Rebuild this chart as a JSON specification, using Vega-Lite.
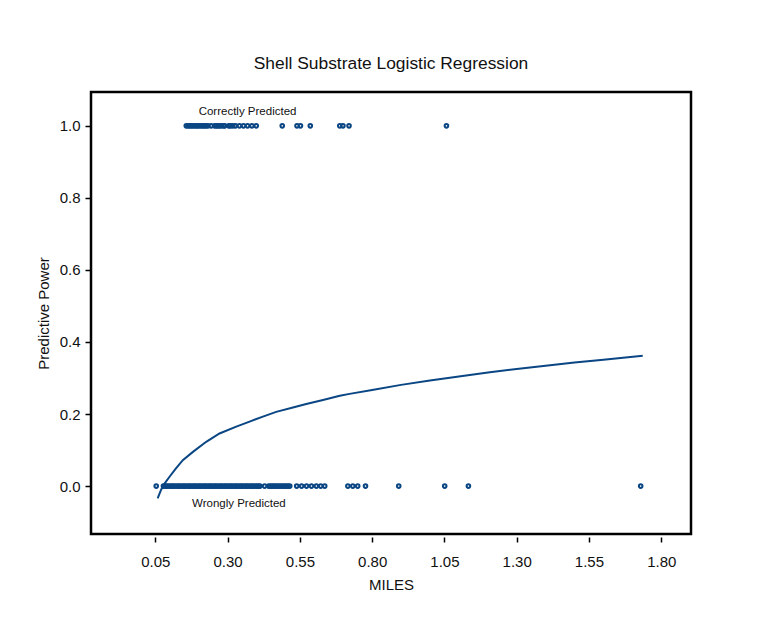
{
  "$schema": "https://vega.github.io/schema/vega-lite/v6.json",
  "width": 600,
  "height": 442,
  "autosize": {"type": "none"},
  "padding": {"left": 91, "top": 92, "right": 77, "bottom": 83},
  "background": "white",
  "config": {
    "font": "Liberation Sans",
    "view": {"stroke": "black", "strokeWidth": 2.5},
    "axis": {"grid": false, "labelFont": "Liberation Sans", "titleFont": "Liberation Sans", "labelColor": "#111", "titleColor": "#111", "tickColor": "black", "tickWidth": 1.5, "titleFontWeight": "normal"}
  },
  "title": {"text": "Shell Substrate Logistic Regression", "fontSize": 17.4, "fontWeight": "normal", "font": "Liberation Sans", "color": "#111", "offset": 20},
  "datasets": {
    "obs": [
      {"miles": 0.053, "pred": 0},
      {"miles": 0.078, "pred": 0}, {"miles": 0.083, "pred": 0}, {"miles": 0.089, "pred": 0}, {"miles": 0.094, "pred": 0},
      {"miles": 0.101, "pred": 0}, {"miles": 0.107, "pred": 0}, {"miles": 0.112, "pred": 0}, {"miles": 0.118, "pred": 0},
      {"miles": 0.125, "pred": 0}, {"miles": 0.131, "pred": 0}, {"miles": 0.136, "pred": 0}, {"miles": 0.143, "pred": 0},
      {"miles": 0.149, "pred": 0}, {"miles": 0.154, "pred": 0}, {"miles": 0.161, "pred": 0}, {"miles": 0.167, "pred": 0},
      {"miles": 0.172, "pred": 0}, {"miles": 0.179, "pred": 0}, {"miles": 0.185, "pred": 0}, {"miles": 0.19, "pred": 0},
      {"miles": 0.197, "pred": 0}, {"miles": 0.203, "pred": 0}, {"miles": 0.208, "pred": 0}, {"miles": 0.215, "pred": 0},
      {"miles": 0.221, "pred": 0}, {"miles": 0.226, "pred": 0}, {"miles": 0.233, "pred": 0}, {"miles": 0.239, "pred": 0},
      {"miles": 0.244, "pred": 0}, {"miles": 0.251, "pred": 0}, {"miles": 0.257, "pred": 0}, {"miles": 0.262, "pred": 0},
      {"miles": 0.269, "pred": 0}, {"miles": 0.275, "pred": 0}, {"miles": 0.28, "pred": 0}, {"miles": 0.287, "pred": 0},
      {"miles": 0.293, "pred": 0}, {"miles": 0.298, "pred": 0}, {"miles": 0.305, "pred": 0}, {"miles": 0.311, "pred": 0},
      {"miles": 0.316, "pred": 0}, {"miles": 0.323, "pred": 0}, {"miles": 0.329, "pred": 0}, {"miles": 0.334, "pred": 0},
      {"miles": 0.341, "pred": 0}, {"miles": 0.347, "pred": 0}, {"miles": 0.352, "pred": 0}, {"miles": 0.359, "pred": 0},
      {"miles": 0.365, "pred": 0}, {"miles": 0.37, "pred": 0}, {"miles": 0.377, "pred": 0}, {"miles": 0.383, "pred": 0},
      {"miles": 0.388, "pred": 0}, {"miles": 0.395, "pred": 0}, {"miles": 0.401, "pred": 0}, {"miles": 0.407, "pred": 0},
      {"miles": 0.412, "pred": 0}, {"miles": 0.428, "pred": 0},
      {"miles": 0.442, "pred": 0}, {"miles": 0.448, "pred": 0}, {"miles": 0.454, "pred": 0}, {"miles": 0.46, "pred": 0},
      {"miles": 0.466, "pred": 0}, {"miles": 0.472, "pred": 0}, {"miles": 0.478, "pred": 0}, {"miles": 0.485, "pred": 0},
      {"miles": 0.491, "pred": 0}, {"miles": 0.497, "pred": 0}, {"miles": 0.503, "pred": 0}, {"miles": 0.509, "pred": 0},
      {"miles": 0.515, "pred": 0},
      {"miles": 0.539, "pred": 0}, {"miles": 0.556, "pred": 0}, {"miles": 0.573, "pred": 0}, {"miles": 0.59, "pred": 0},
      {"miles": 0.607, "pred": 0}, {"miles": 0.622, "pred": 0}, {"miles": 0.636, "pred": 0},
      {"miles": 0.716, "pred": 0}, {"miles": 0.733, "pred": 0}, {"miles": 0.75, "pred": 0}, {"miles": 0.777, "pred": 0},
      {"miles": 0.892, "pred": 0}, {"miles": 1.051, "pred": 0}, {"miles": 1.133, "pred": 0}, {"miles": 1.729, "pred": 0},
      {"miles": 0.157, "pred": 1}, {"miles": 0.163, "pred": 1}, {"miles": 0.169, "pred": 1}, {"miles": 0.174, "pred": 1},
      {"miles": 0.18, "pred": 1}, {"miles": 0.186, "pred": 1}, {"miles": 0.192, "pred": 1}, {"miles": 0.197, "pred": 1},
      {"miles": 0.203, "pred": 1}, {"miles": 0.209, "pred": 1}, {"miles": 0.215, "pred": 1}, {"miles": 0.22, "pred": 1},
      {"miles": 0.226, "pred": 1}, {"miles": 0.232, "pred": 1}, {"miles": 0.243, "pred": 1}, {"miles": 0.255, "pred": 1},
      {"miles": 0.261, "pred": 1}, {"miles": 0.266, "pred": 1}, {"miles": 0.272, "pred": 1}, {"miles": 0.278, "pred": 1},
      {"miles": 0.286, "pred": 1}, {"miles": 0.29, "pred": 1},
      {"miles": 0.304, "pred": 1}, {"miles": 0.31, "pred": 1}, {"miles": 0.318, "pred": 1}, {"miles": 0.327, "pred": 1},
      {"miles": 0.341, "pred": 1}, {"miles": 0.355, "pred": 1}, {"miles": 0.369, "pred": 1}, {"miles": 0.384, "pred": 1},
      {"miles": 0.399, "pred": 1},
      {"miles": 0.489, "pred": 1}, {"miles": 0.54, "pred": 1}, {"miles": 0.552, "pred": 1}, {"miles": 0.586, "pred": 1},
      {"miles": 0.688, "pred": 1}, {"miles": 0.699, "pred": 1}, {"miles": 0.72, "pred": 1}, {"miles": 1.057, "pred": 1}
    ],
    "fit": [
      {"miles": 0.058, "p": -0.034}, {"miles": 0.07, "p": -0.01}, {"miles": 0.08, "p": 0.005},
      {"miles": 0.099, "p": 0.026}, {"miles": 0.12, "p": 0.048}, {"miles": 0.145, "p": 0.072},
      {"miles": 0.18, "p": 0.095}, {"miles": 0.226, "p": 0.123}, {"miles": 0.272, "p": 0.146},
      {"miles": 0.33, "p": 0.165}, {"miles": 0.376, "p": 0.179}, {"miles": 0.422, "p": 0.193},
      {"miles": 0.468, "p": 0.206}, {"miles": 0.526, "p": 0.218}, {"miles": 0.572, "p": 0.228},
      {"miles": 0.63, "p": 0.239}, {"miles": 0.688, "p": 0.251}, {"miles": 0.722, "p": 0.256},
      {"miles": 0.8, "p": 0.267}, {"miles": 0.9, "p": 0.281}, {"miles": 1.0, "p": 0.293},
      {"miles": 1.1, "p": 0.304}, {"miles": 1.207, "p": 0.316}, {"miles": 1.3, "p": 0.325},
      {"miles": 1.4, "p": 0.334}, {"miles": 1.5, "p": 0.343}, {"miles": 1.6, "p": 0.351},
      {"miles": 1.736, "p": 0.362}
    ],
    "notes": [
      {"miles": 0.369, "p": 1.038, "label": "Correctly Predicted"},
      {"miles": 0.339, "p": -0.05, "label": "Wrongly Predicted"}
    ]
  },
  "layer": [
    {
      "data": {"name": "fit"},
      "mark": {"type": "line", "color": "#0a4683", "strokeWidth": 2},
      "encoding": {
        "x": {"field": "miles", "type": "quantitative", "scale": {"domain": [-0.1726, 1.903], "nice": false, "zero": false},
          "axis": {"title": "MILES", "values": [0.05, 0.3, 0.55, 0.8, 1.05, 1.3, 1.55, 1.8], "format": ".2f", "domain": false, "offset": 3, "tickSize": 5, "labelFontSize": 15, "titleFontSize": 15, "labelPadding": 12, "titlePadding": 8, "labelFlush": false}},
        "y": {"field": "p", "type": "quantitative", "scale": {"domain": [-0.133, 1.094], "nice": false, "zero": false},
          "axis": {"title": "Predictive Power", "values": [0, 0.2, 0.4, 0.6, 0.8, 1.0], "format": ".1f", "domain": false, "tickSize": 6, "labelFontSize": 15, "titleFontSize": 15, "labelPadding": 5, "titlePadding": 8, "labelFlush": false}}
      }
    },
    {
      "data": {"name": "obs"},
      "mark": {"type": "point", "shape": "circle", "filled": false, "color": "#0a4683", "size": 13, "strokeWidth": 2, "opacity": 1},
      "encoding": {
        "x": {"field": "miles", "type": "quantitative"},
        "y": {"field": "pred", "type": "quantitative"}
      }
    },
    {
      "data": {"name": "notes"},
      "mark": {"type": "text", "fontSize": 11.5, "font": "Liberation Sans", "color": "#111", "align": "center", "baseline": "middle"},
      "encoding": {
        "x": {"field": "miles", "type": "quantitative"},
        "y": {"field": "p", "type": "quantitative"},
        "text": {"field": "label"}
      }
    }
  ]
}
